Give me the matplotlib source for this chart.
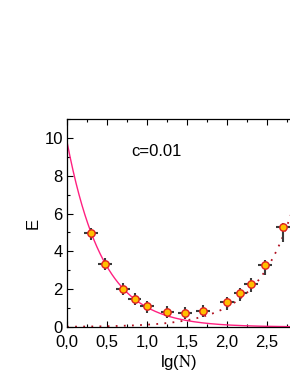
import numpy as np
import matplotlib
matplotlib.use("Agg")
import matplotlib.pyplot as plt
from matplotlib.ticker import MultipleLocator, FuncFormatter

plt.rcParams['font.family'] = ['Liberation Sans', 'DejaVu Sans']
plt.rcParams['mathtext.fontset'] = 'stix'

# data points (lg N, E)
lgN = [0.301, 0.477, 0.699, 0.845, 1.0, 1.255, 1.477, 1.70, 2.0, 2.17, 2.30, 2.48, 2.70]
E = [4.96, 3.33, 2.02, 1.50, 1.10, 0.80, 0.76, 0.85, 1.30, 1.78, 2.27, 3.26, 5.27]
xerr = [0.085] * len(lgN)
yerr_low = [0.34, 0.34, 0.34, 0.34, 0.34, 0.34, 0.34, 0.34, 0.38, 0.38, 0.42, 0.5, 0.75]
yerr_high = [0.3, 0.3, 0.3, 0.3, 0.3, 0.3, 0.3, 0.3, 0.3, 0.3, 0.3, 0.3, 0.22]

# fitted curves: decaying (A*exp(-k x)) and growing (B*exp(m x))
decay_amp, decay_rate = 9.8, 2.24
grow_amp, grow_rate = 0.014, 2.16

fig = plt.figure(figsize=(2.9, 3.76), dpi=100)
ax = fig.add_axes([67/290, 49/376, 223/290, 208/376])

xs = np.linspace(0, 2.8, 300)
ax.plot(xs, decay_amp * np.exp(-decay_rate * xs), color='#FF2080', lw=1.0, zorder=2)
ax.plot(xs, grow_amp * np.exp(grow_rate * xs), color='#B01020', lw=1.3,
        linestyle=(0, (1, 3.5)), zorder=2)

ax.errorbar(lgN, E, xerr=xerr, yerr=[yerr_low, yerr_high], fmt='none',
            ecolor='#3a3a3a', elinewidth=1.5, capsize=0, zorder=3)
ax.plot(lgN, E, 'o', ms=5.3, mfc='#FFC000', mec='#E02020', mew=1.0, zorder=4)

ax.text(0.80, 9.3, 'c=0.01', fontsize=12, ha='left', va='center')

ax.set_xlim(0, 2.79)
ax.set_ylim(0, 11)
ax.xaxis.set_major_locator(MultipleLocator(0.5))
ax.xaxis.set_minor_locator(MultipleLocator(0.25))
ax.yaxis.set_major_locator(MultipleLocator(2))
ax.yaxis.set_minor_locator(MultipleLocator(1))
ax.xaxis.set_major_formatter(FuncFormatter(lambda v, p: f"{v:.1f}".replace('.', ',')))
ax.yaxis.set_major_formatter(FuncFormatter(lambda v, p: f"{v:.0f}"))
ax.tick_params(which='both', direction='in', top=True, right=False, labelsize=12)
ax.tick_params(axis='x', pad=6)
ax.tick_params(axis='y', pad=3)
ax.tick_params(which='major', length=4, width=0.8)
ax.tick_params(which='minor', length=2.5, width=0.8)
ax.spines['right'].set_visible(False)
for s in ['left', 'bottom', 'top']:
    ax.spines[s].set_linewidth(0.9)

ax.set_xlabel(r'lg($\mathrm{N}$)', fontsize=12, labelpad=2)
ax.set_ylabel('E', fontsize=12, labelpad=3)

fig.savefig('out.png', dpi=100)
